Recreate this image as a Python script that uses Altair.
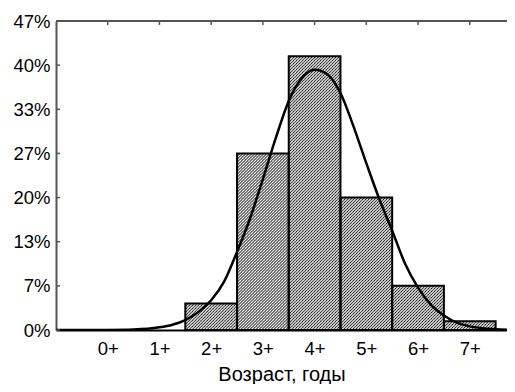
import altair as alt
import pandas as pd
from urllib.parse import quote

# ---- data ----
age_labels = ["0+", "1+", "2+", "3+", "4+", "5+", "6+", "7+"]
bar_age = [2, 3, 4, 5, 6, 7]
bar_pct = [4.0, 26.67, 41.33, 20.0, 6.67, 1.33]
curve_age = [-1, -0.5, 0, 0.5, 1, 1.25, 1.5, 1.75, 2, 2.25, 2.5, 2.75, 3, 3.25, 3.5,
             3.75, 4, 4.25, 4.5, 4.75, 5, 5.25, 5.5, 5.75, 6, 6.25, 6.5, 6.75, 7, 7.5, 7.9]
curve_pct = [0, 0, 0.01, 0.07, 0.4, 0.8, 1.5, 2.7, 4.5, 7.3, 11.8, 16.8, 22.8, 29.0, 34.6,
             38.0, 39.3, 38.6, 35.8, 30.8, 25.2, 19.8, 15.0, 10.0, 6.4, 3.8, 2.2, 1.1, 0.55, 0.12, 0.03]
y_ticks = [0, 6.667, 13.333, 20, 26.667, 33.333, 40, 46.667]

# ---- layout ----
W, H = 451, 309
X_MIN, X_MAX = -1, 7.72
Y_MAX = 46.667
FONT = "Liberation Sans"

bars_df = pd.DataFrame({"age": bar_age, "pct": bar_pct})
curve_df = pd.DataFrame({"a": curve_age, "p": curve_pct})
ages_df = pd.DataFrame({"age": list(range(len(age_labels)))})
yt_df = pd.DataFrame({"v": y_ticks})

xscale = alt.Scale(domain=[X_MIN, X_MAX], nice=False, zero=False)
yscale = alt.Scale(domain=[0, Y_MAX], nice=False)

label_expr = "[" + ",".join("'%s'" % s for s in age_labels) + "][datum.value]"
xaxis = alt.Axis(values=list(range(len(age_labels))), labelExpr=label_expr,
                 title="Возраст, годы", ticks=False, grid=False,
                 domainColor="black", domainWidth=2, labelPadding=9,
                 titlePadding=7, labelOverlap=False, labelFontSize=18.5,
                 titleFontSize=20)
yaxis = alt.Axis(values=y_ticks, labelExpr="format(datum.value, '.0f') + '%'",
                 title=None, ticks=False, grid=False, domainColor="#555555",
                 domainWidth=2, labelPadding=6, labelOverlap=False, labelFontSize=18.5)

# diagonal hatch used as the bars' fill (an SVG pattern drawn by an image mark)
hatch_svg = (
    '<svg xmlns="http://www.w3.org/2000/svg" width="100%" height="100%">'
    '<defs><pattern id="h" width="3" height="3" patternUnits="userSpaceOnUse">'
    '<path d="M-1,1 l2,-2 M0,3 l3,-3 M2,4 l2,-2" stroke="black" stroke-width="0.9"/>'
    '</pattern></defs>'
    '<rect width="100%" height="100%" fill="white"/>'
    '<rect width="100%" height="100%" fill="url(#h)"/></svg>'
)
hatch_url = "data:image/svg+xml;charset=utf-8," + quote(hatch_svg)

bar_base = alt.Chart(bars_df).transform_calculate(
    lo="datum.age - 0.5", hi="datum.age + 0.5", base="0")

bar_fill = bar_base.mark_image(aspect=False, clip=True).encode(
    x=alt.X("lo:Q", scale=xscale, axis=xaxis), x2="hi:Q",
    y=alt.Y("pct:Q", scale=yscale, axis=yaxis), y2="base:Q",
    url=alt.value(hatch_url))

bar_outline = bar_base.mark_bar(fill=None, fillOpacity=0, stroke="black",
                                strokeWidth=2, clip=True).encode(
    x=alt.X("lo:Q", scale=xscale, axis=xaxis), x2="hi:Q",
    y=alt.Y("pct:Q", scale=yscale, axis=yaxis), y2="base:Q")

curve = alt.Chart(curve_df).mark_line(color="black", strokeWidth=2.5,
                                      interpolate="monotone", clip=True).encode(
    x=alt.X("a:Q", scale=xscale, axis=xaxis),
    y=alt.Y("p:Q", scale=yscale, axis=yaxis))

top_line = alt.Chart(ages_df.head(1)).mark_rule(color="#555555", strokeWidth=2).encode(
    x=alt.value(0), x2=alt.value(W), y=alt.value(0))
top_ticks = alt.Chart(ages_df).mark_rule(color="#555555", strokeWidth=1.5).encode(
    x=alt.X("age:Q", scale=xscale, axis=xaxis), y=alt.value(0), y2=alt.value(4))
left_ticks = alt.Chart(yt_df).mark_rule(color="#555555", strokeWidth=1.5).encode(
    y=alt.Y("v:Q", scale=yscale, axis=yaxis), x=alt.value(0), x2=alt.value(4))

chart = alt.layer(bar_fill, bar_outline, curve, top_line, top_ticks, left_ticks).properties(
    width=W, height=H,
    autosize=alt.AutoSizeParams(type="none"),
    padding={"left": 48, "top": 13, "right": 0, "bottom": 54},
).configure_view(stroke=None).configure_axis(
    labelFont=FONT, titleFont=FONT,
    labelColor="black", titleColor="black", titleFontWeight="normal",
)

chart.save("out.html", embed_options={"renderer": "svg", "actions": False})
